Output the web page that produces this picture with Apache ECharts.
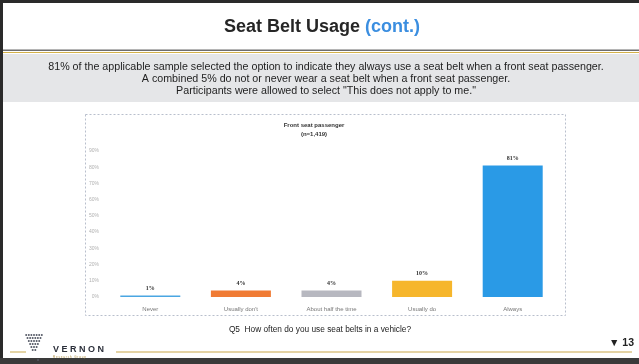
<!DOCTYPE html>
<html>
<head>
<meta charset="utf-8">
<script src="https://cdn.jsdelivr.net/npm/echarts@6/dist/echarts.min.js"></script>
<style>
html,body{margin:0;padding:0;background:#fff;}
#chart{width:639px;height:364px;}
</style>
</head>
<body>
<div id="chart"></div>
<script>
const categories = ['Never', "Usually don't", 'About half the time', 'Usually do', 'Always'];
const values = [1, 4, 4, 10, 81];
const valueLabels = ['1%', '4%', '4%', '10%', '81%'];
const barColors = ['#4aa6e2', '#f07b34', '#b7b8c0', '#f6b62c', '#2a9ae6'];
const yTicks = [0, 10, 20, 30, 40, 50, 60, 70, 80, 90];

const FONT = '"Liberation Sans", Arial, sans-serif';
const chart = echarts.init(document.getElementById('chart'), null, {renderer: 'canvas'});

// logo dots (inverted triangle)
const dotRows = [7, 6, 5, 4, 3, 2];
const logoDots = [];
dotRows.forEach((n, r) => {
  for (let i = 0; i < n; i++) {
    logoDots.push({
      type: 'circle', silent: true,
      shape: {cx: 34 - (n - 1) * 1.3 + i * 2.6, cy: 335 + r * 3, r: 1},
      style: {fill: '#555a66'}
    });
  }
});

const option = {
  backgroundColor: '#ffffff',
  animation: false,
  grid: {left: 105, right: 81, top: 151, bottom: 67, containLabel: false},
  xAxis: {
    type: 'category',
    data: categories,
    axisLine: {show: false},
    axisTick: {show: false},
    axisLabel: {fontSize: 6, color: '#777', margin: 9, fontFamily: FONT, interval: 0}
  },
  yAxis: {
    type: 'value',
    min: 0, max: 90, interval: 10,
    axisLine: {show: false},
    axisTick: {show: false},
    splitLine: {show: false},
    axisLabel: {fontSize: 5, color: '#b0b0b0', margin: 6, fontFamily: FONT,
      formatter: v => yTicks.indexOf(v) >= 0 ? v + '%' : ''}
  },
  series: [{
    type: 'bar',
    barWidth: 60,
    data: values.map((v, i) => ({value: v, itemStyle: {color: barColors[i]}})),
    label: {
      show: true, position: 'top', distance: 4,
      fontSize: 6, fontWeight: 'bold', color: '#333', fontFamily: 'serif',
      formatter: p => valueLabels[p.dataIndex]
    }
  }],
  graphic: [
    // outer frame
    {type: 'rect', silent: true, shape: {x: 0, y: 0, width: 639, height: 3}, style: {fill: '#2a2a2a'}},
    {type: 'rect', silent: true, shape: {x: 0, y: 0, width: 3, height: 364}, style: {fill: '#2a2a2a'}},
    {type: 'rect', silent: true, shape: {x: 0, y: 358, width: 639, height: 6}, style: {fill: '#3a3a3a'}},
    // title
    {type: 'text', silent: true, x: 322, y: 18,
      style: {text: '{a|Seat Belt Usage }{b|(cont.)}', font: 'bold 18px ' + FONT, align: 'center',
        rich: {a: {fill: '#262626', font: 'bold 18px ' + FONT}, b: {fill: '#3b8ee0', font: 'bold 18px ' + FONT}}}},
    // header lines
    {type: 'rect', silent: true, shape: {x: 3, y: 49.5, width: 636, height: 1.5}, style: {fill: '#6d6d6d'}},
    {type: 'rect', silent: true, shape: {x: 3, y: 52, width: 636, height: 1}, style: {fill: '#d4b24a'}},
    // gray band
    {type: 'rect', silent: true, shape: {x: 3, y: 54, width: 636, height: 48}, style: {fill: '#e5e6e8'}},
    {type: 'text', silent: true, x: 326, y: 61.5, style: {
      text: '81% of the applicable sample selected the option to indicate they always use a seat belt when a front seat passenger.\nA combined 5% do not or never wear a seat belt when a front seat passenger.\nParticipants were allowed to select "This does not apply to me."',
      font: '10.7px ' + FONT, fill: '#1e1e1e', align: 'center', verticalAlign: 'top', lineHeight: 12}},
    // chart box
    {type: 'rect', silent: true, shape: {x: 85.5, y: 114.5, width: 480, height: 201},
      style: {fill: 'none', stroke: '#b8bfcc', lineWidth: 1, lineDash: [2, 2]}},
    {type: 'text', silent: true, x: 314, y: 121, style: {
      text: 'Front seat passenger\n(n=1,419)', font: 'bold 6px ' + FONT, fill: '#333',
      align: 'center', verticalAlign: 'top', lineHeight: 9}},
    // footer
    {type: 'text', silent: true, x: 320, y: 325.5, style: {
      text: 'Q5  How often do you use seat belts in a vehicle?', font: '8.3px ' + FONT, fill: '#222',
      align: 'center', verticalAlign: 'top'}},
    {type: 'rect', silent: true, shape: {x: 10, y: 351.5, width: 16, height: 1}, style: {fill: '#c9a84a'}},
    {type: 'rect', silent: true, shape: {x: 116, y: 351.5, width: 516, height: 1}, style: {fill: '#c9a84a'}},
    ...logoDots,
    {type: 'circle', silent: true, shape: {cx: 38, cy: 360, r: 0.9}, style: {fill: '#555a66'}},
    {type: 'text', silent: true, x: 53, y: 345.5, style: {
      text: 'V E R N O N', font: 'bold 9px ' + FONT, fill: '#2b2f3a', verticalAlign: 'top'}},
    {type: 'text', silent: true, x: 53, y: 355.5, style: {
      text: 'R e s e a r c h   G r o u p', font: '3px ' + FONT, fill: '#b09040', verticalAlign: 'top'}},
    {type: 'text', silent: true, x: 634, y: 337.5, style: {
      text: '▼ 13', font: 'bold 10.5px ' + FONT, fill: '#222', align: 'right', verticalAlign: 'top'}}
  ]
};
chart.setOption(option);
</script>
</body>
</html>
